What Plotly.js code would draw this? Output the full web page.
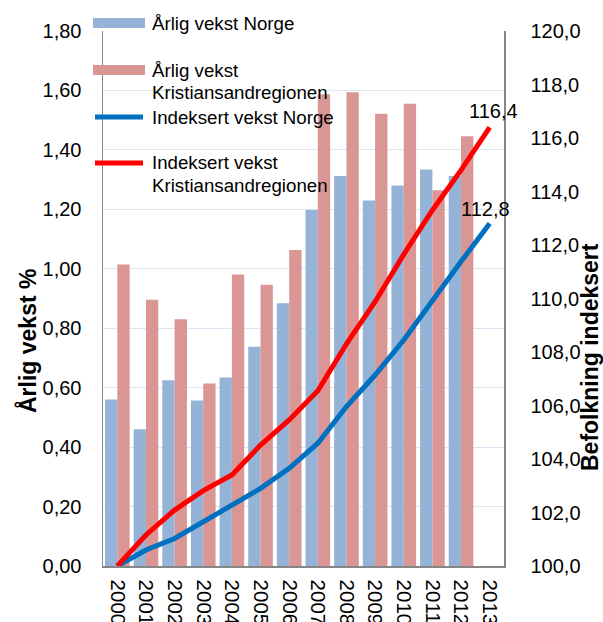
<!DOCTYPE html>
<html>
<head>
<meta charset="utf-8">
<script src="https://cdn.plot.ly/plotly-3.0.1.min.js"></script>
<style>
html,body{margin:0;padding:0;background:#fff;}
#chart{width:603px;height:622px;}
</style>
</head>
<body>
<div id="chart"></div>
<script>
var years = ['2000','2001','2002','2003','2004','2005','2006','2007','2008','2009','2010','2011','2012','2013'];
var norgeVekst = [0.56, 0.46, 0.625, 0.557, 0.634, 0.738, 0.884, 1.198, 1.312, 1.230, 1.280, 1.334, 1.312, null];
var krsVekst = [1.014, 0.896, 0.830, 0.614, 0.981, 0.946, 1.063, 1.587, 1.594, 1.522, 1.555, 1.264, 1.446, null];
var norgeIndeks = [100, 100.60, 101.03, 101.66, 102.28, 102.90, 103.65, 104.59, 105.96, 107.14, 108.45, 109.94, 111.38, 112.8];
var krsIndeks = [100, 101.16, 102.09, 102.82, 103.40, 104.52, 105.46, 106.55, 108.3, 109.88, 111.65, 113.3, 114.8, 116.4];
var seriesNames = ['Årlig vekst Norge', 'Årlig vekst Kristiansandregionen', 'Indeksert vekst Norge', 'Indeksert vekst Kristiansandregionen'];

var cBlueBar = '#95B3D7', cRedBar = '#D99694', cBlueLine = '#0070C0', cRedLine = '#FF0000';
var FONT = 'Liberation Sans, Arial, sans-serif';

// plot area in pixels
var L = 103, R = 504, T = 31, B = 566, W = 603, H = 622;
function px(x){ return (x - L) / (R - L); }
function py(y){ return (B - y) / (B - T); }

var traces = [
  {type:'bar', x:years, y:norgeVekst, name:seriesNames[0], marker:{color:cBlueBar}, yaxis:'y', showlegend:false, hoverinfo:'skip'},
  {type:'bar', x:years, y:krsVekst, name:seriesNames[1], marker:{color:cRedBar}, yaxis:'y', showlegend:false, hoverinfo:'skip'},
  {type:'scatter', mode:'lines', x:years, y:norgeIndeks, name:seriesNames[2], line:{color:cBlueLine, width:5}, yaxis:'y2', showlegend:false, hoverinfo:'skip'},
  {type:'scatter', mode:'lines', x:years, y:krsIndeks, name:seriesNames[3], line:{color:cRedLine, width:5}, yaxis:'y2', showlegend:false, hoverinfo:'skip'}
];

function fmt1(v){ return v.toFixed(1).replace('.', ','); }
var last = years.length - 1;

var fs = 18.7;   // legend text
var tfs = 20;    // tick labels / data labels
var shapes = [
  // legend symbols
  {type:'rect', xref:'paper', yref:'paper', x0:px(93), x1:px(145), y0:py(18), y1:py(28), fillcolor:cBlueBar, line:{width:0}},
  {type:'rect', xref:'paper', yref:'paper', x0:px(93), x1:px(145), y0:py(65), y1:py(75), fillcolor:cRedBar, line:{width:0}},
  {type:'line', xref:'paper', yref:'paper', x0:px(95), x1:px(143), y0:py(117), y1:py(117), line:{color:cBlueLine, width:5}},
  {type:'line', xref:'paper', yref:'paper', x0:px(95), x1:px(143), y0:py(163), y1:py(163), line:{color:cRedLine, width:5}}
];
function legText(txt, y){
  return {xref:'paper', yref:'paper', x:px(150), y:py(y), xanchor:'left', yanchor:'middle', text:txt, showarrow:false, font:{family:FONT, size:fs, color:'#000'}};
}
var annotations = [
  legText('Årlig vekst Norge', 23),
  legText('Årlig vekst', 70),
  legText('Kristiansandregionen', 92),
  legText('Indeksert vekst Norge', 117),
  legText('Indeksert vekst', 163),
  legText('Kristiansandregionen', 185),
  {x:last, y:krsIndeks[last], xref:'x', yref:'y2', text:fmt1(krsIndeks[last]), showarrow:false, xanchor:'center', yanchor:'bottom', xshift:4, yshift:3, font:{family:FONT, size:tfs, color:'#000'}},
  {x:last, y:norgeIndeks[last], xref:'x', yref:'y2', text:fmt1(norgeIndeks[last]), showarrow:false, xanchor:'center', yanchor:'bottom', xshift:-4, yshift:2, font:{family:FONT, size:tfs, color:'#000'}},
  {xref:'paper', yref:'paper', x:px(27), y:py(341), xanchor:'center', yanchor:'middle', textangle:-90, text:'<b>Årlig vekst %</b>', showarrow:false, font:{family:FONT, size:23, color:'#000'}},
  {xref:'paper', yref:'paper', x:px(590), y:py(357), xanchor:'center', yanchor:'middle', textangle:-90, text:'<b>Befolkning indeksert</b>', showarrow:false, font:{family:FONT, size:23, color:'#000'}}
];

var layout = {
  width:W, height:H,
  margin:{l:L, r:W-R, t:T, b:H-B, pad:0},
  paper_bgcolor:'#fff', plot_bgcolor:'#fff',
  separators:', ',
  barmode:'group', bargap:0.14, bargroupgap:0,
  showlegend:false,
  font:{family:FONT, size:fs, color:'#000'},
  xaxis:{type:'category', range:[-0.5, years.length - 0.5], autorange:false, tickangle:90, showgrid:false, zeroline:false, showline:true, linecolor:'#868686', linewidth:1.5, ticks:'', ticklabelstandoff:8, automargin:false, tickfont:{family:FONT, size:tfs + 0.5, color:'#000'}},
  yaxis:{range:[0,1.8], autorange:false, dtick:0.2, tick0:0, tickformat:'.2f', showgrid:true, gridcolor:'#DCE6F2', gridwidth:1.2, zeroline:false, showline:true, linecolor:'#868686', linewidth:1.5, ticks:'', ticklabelstandoff:16, automargin:false, tickfont:{family:FONT, size:tfs, color:'#000'}},
  yaxis2:{range:[100,120], autorange:false, dtick:2, tick0:100, tickformat:'.1f', overlaying:'y', side:'right', showgrid:false, zeroline:false, showline:true, linecolor:'#868686', linewidth:1.5, ticks:'', ticklabelstandoff:21, automargin:false, tickfont:{family:FONT, size:tfs, color:'#000'}},
  shapes:shapes,
  annotations:annotations
};

Plotly.newPlot('chart', traces, layout, {displayModeBar:false, staticPlot:true});
</script>
</body>
</html>
